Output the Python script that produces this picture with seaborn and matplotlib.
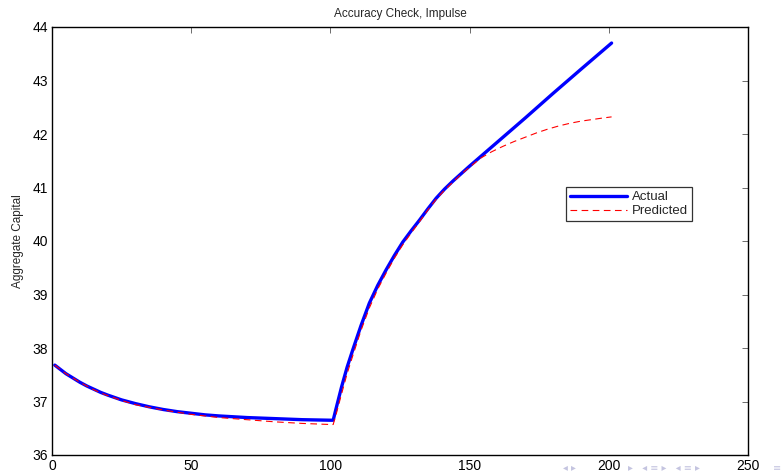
import matplotlib
matplotlib.use("Agg")
import matplotlib.pyplot as plt
import seaborn as sns

# ── Data ───────────────────────────────────────────────────────────────────────
actual_t = [1, 3, 5, 7.5, 10, 12.5, 15, 17.5, 20, 25, 30, 35, 40, 45, 50, 55, 60,
            70, 80, 90, 100, 101, 102, 104, 106, 108, 111, 114, 117, 120, 123,
            126, 129, 132, 135, 138, 141, 144, 147, 150, 160, 170, 180, 190, 201]
actual_k = [37.68, 37.60, 37.52, 37.44, 37.36, 37.29, 37.23, 37.17, 37.12, 37.03,
            36.96, 36.90, 36.85, 36.81, 36.78, 36.75, 36.73, 36.70, 36.68, 36.66,
            36.65, 36.65, 36.86, 37.27, 37.64, 37.96, 38.42, 38.84, 39.17, 39.46,
            39.73, 39.98, 40.19, 40.39, 40.60, 40.80, 40.97, 41.12, 41.26, 41.40,
            41.85, 42.30, 42.76, 43.21, 43.70]

pred_t = [1, 3, 5, 7.5, 10, 12.5, 15, 17.5, 20, 25, 30, 35, 40, 45, 50, 55, 60,
          70, 80, 90, 100, 101, 102, 104, 106, 108, 111, 114, 117, 120, 123,
          126, 129, 132, 135, 138, 141, 144, 147, 150, 154, 158, 162, 166, 170,
          174, 178, 182, 186, 190, 194, 198, 201]
pred_k = [37.68, 37.60, 37.52, 37.44, 37.36, 37.29, 37.22, 37.16, 37.11, 37.02,
          36.94, 36.89, 36.84, 36.80, 36.76, 36.73, 36.70, 36.66, 36.62, 36.59,
          36.57, 36.57, 36.75, 37.14, 37.52, 37.85, 38.33, 38.75, 39.10, 39.40,
          39.68, 39.93, 40.15, 40.36, 40.58, 40.78, 40.95, 41.10, 41.25, 41.38,
          41.55, 41.67, 41.77, 41.86, 41.94, 42.02, 42.09, 42.15, 42.20, 42.24,
          42.27, 42.30, 42.32]

DASH = (0, (6, 4))

sns.set_theme(style="white")
plt.rcParams["font.family"] = ["Liberation Sans", "DejaVu Sans"]

fig = plt.figure(figsize=(7.83, 4.76), dpi=100)
ax = fig.add_axes([52 / 783, 21 / 476, 696 / 783, 428 / 476])

sns.lineplot(x=actual_t, y=actual_k, ax=ax, color="#0000ff", linewidth=2.4,
             label="Actual", estimator=None, sort=False)
sns.lineplot(x=pred_t, y=pred_k, ax=ax, color="#ff0000", linewidth=0.8,
             label="Predicted", estimator=None, sort=False)
ax.lines[1].set_linestyle(DASH)

ax.set_xlim(0, 250)
ax.set_ylim(36, 44)
ax.set_xticks(range(0, 251, 50))
ax.set_yticks(range(36, 45))

for s in ax.spines.values():
    s.set_visible(True)
    s.set_color("black")
    s.set_linewidth(1.0)

ax.tick_params(direction="in", length=4, width=0.6, color="#555555",
               labelsize=10, labelcolor="black", top=True, right=True, pad=3)

ax.set_title("Accuracy Check, Impulse", fontsize=8.5, pad=7)
ax.set_ylabel("Aggregate Capital", fontsize=8.5, labelpad=6)
ax.set_xlabel("")

leg = ax.legend(loc="upper left", bbox_to_anchor=(514 / 696, 268 / 428),
                fontsize=9.5, frameon=True, fancybox=False, borderpad=0.3,
                handlelength=4.3, labelspacing=0.15, handletextpad=0.4,
                borderaxespad=0)
leg.get_frame().set_edgecolor("black")
leg.get_frame().set_linewidth(0.9)
leg.get_lines()[1].set_linestyle(DASH)

# faint beamer navigation symbols, bottom right (kept clear of tick labels)
nav = dict(va="bottom", fontsize=7, color="#c4c4e0", family="DejaVu Sans")
fig.text(563 / 783, 0.006, "◂ ▸", ha="left", **nav)
fig.text(628 / 783, 0.006, "▸   ◂ ≡ ▸   ◂ ≡ ▸", ha="left", **nav)
fig.text(0.997, 0.006, "≡", ha="right", **nav)

fig.savefig("out.png", dpi=100)
